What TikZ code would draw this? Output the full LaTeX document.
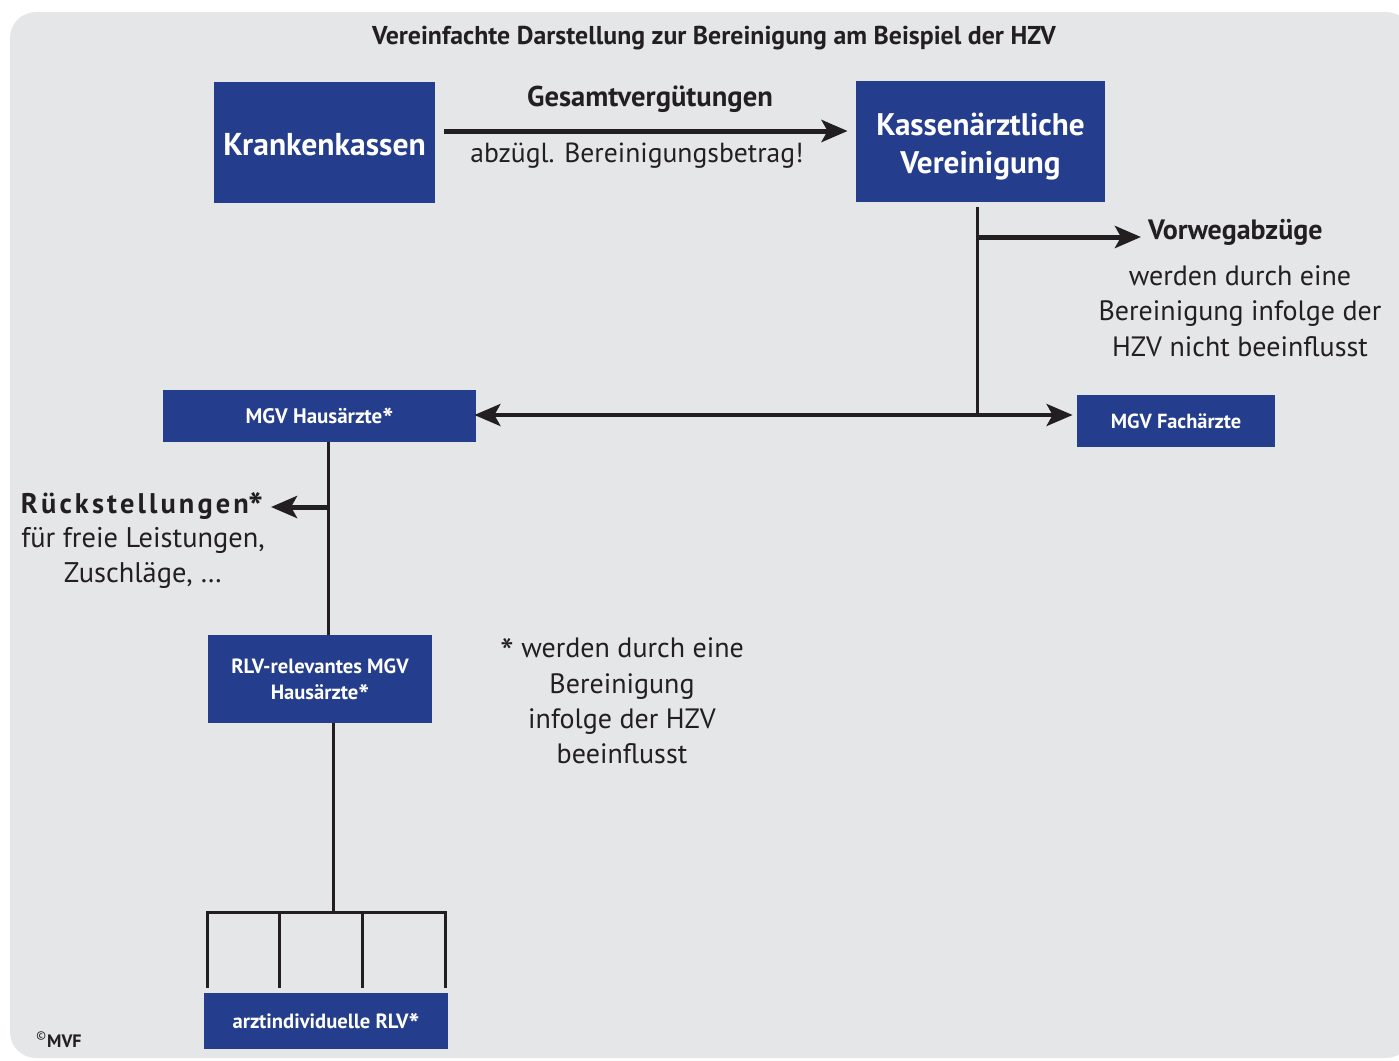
\documentclass[tikz,border=0pt]{standalone}
\usepackage{fontspec}
\usepackage{graphicx}
\setmainfont{PT Sans}
\usetikzlibrary{arrows.meta}
\definecolor{kvblue}{RGB}{36,61,140}
\definecolor{panelgray}{RGB}{229,230,232}
\definecolor{ink}{RGB}{35,31,32}
\newcommand{\lowstar}{\raisebox{-0.6ex}[0pt][0pt]{\scalebox{1.4}{*}}}
\tikzset{
  box/.style={fill=kvblue, text=white, inner sep=0pt, align=center},
  link/.style={draw=ink, line width=1.5pt},
  flow/.style={draw=ink, line width=2.5pt, -{Stealth[length=13pt,width=11pt,inset=3pt]}},
  both/.style={draw=ink, line width=2pt, {Stealth[length=13pt,width=11pt,inset=3pt]}-{Stealth[length=13pt,width=11pt,inset=3pt]}},
}

\begin{document}
\begin{tikzpicture}[x=0.5pt, y=-0.5pt, text=ink]
  \useasboundingbox (0,0) rectangle (1399,1061);
  \clip (0,0) rectangle (1399,1061);
  % grey panel
  \fill[panelgray, rounded corners=13pt] (10,12) rectangle (1412,1058);
  \node[font=\bfseries\fontsize{12.9}{15}\selectfont] (title) at (714,38)
        {Vereinfachte Darstellung zur Bereinigung am Beispiel der HZV};
  % top row
  \node[box, minimum width=110.5pt, minimum height=60.5pt,
        font=\bfseries\fontsize{15.8}{19}\selectfont] (kk) at (324.5,142.5)
        {\raisebox{-1pt}[\height][\depth]{Krankenkassen}};
  \node[box, minimum width=124.5pt, minimum height=60.5pt,
        font=\bfseries\fontsize{15.6}{19}\selectfont] (kv) at (980.5,141.5)
        {\raisebox{-2.5pt}[\height][\depth]{\begin{tabular}{@{}c@{}}Kassenärztliche\\Vereinigung\end{tabular}}};
  \draw[flow, shorten <=4.5pt, shorten >=4pt] (kk.east |- 0,131) -- (kv.west |- 0,131);
  \node[font=\bfseries\fontsize{14.3}{17}\selectfont] (gv) at (650,99) {Gesamtvergütungen};
  \node[font=\fontsize{13.8}{16}\selectfont] (abz) at (637,156) {abzügl. Bereinigungsbetrag!};
  % KV branch
  \coordinate (kvtop) at (977,207);
  \coordinate (kvjoin) at (977,415);
  \draw[link] (kvtop) -- (kvjoin);
  \node[anchor=west, font=\bfseries\fontsize{14}{17}\selectfont] (vw) at (1141,232) {Vorwegabzüge};
  \coordinate (vwfrom) at (978,237);
  \draw[flow] (vwfrom) -- (vw.west |- vwfrom);
  \node[align=center, font=\fontsize{14}{17.75}\selectfont] (vwnote) at (1240,311)
        {werden durch eine\\Bereinigung infolge der\\HZV nicht beeinflusst};
  % MGV row
  \node[box, minimum width=156.5pt, minimum height=26pt,
        font=\bfseries\fontsize{10.5}{12}\selectfont] (mgvh) at (319.5,416) {MGV Hausärzte\lowstar};
  \node[box, minimum width=99pt, minimum height=26pt,
        font=\bfseries\fontsize{10.2}{12}\selectfont] (mgvf) at (1176,421) {MGV Fachärzte};
  \draw[both, shorten <=-1pt, shorten >=2pt] (mgvh.east |- kvjoin) -- (mgvf.west |- kvjoin);
  % Hausaerzte branch
  \node[box, minimum width=112pt, minimum height=44pt,
        font=\bfseries\fontsize{10.3}{13}\selectfont] (rlv) at (320,679) {RLV-relevantes MGV\\Hausärzte\lowstar};
  \draw[link] (mgvh.south -| 328,0) -- (rlv.north -| 328,0);
  \coordinate (rsfrom) at (328,507);
  \node[anchor=east, font=\bfseries\fontsize{14.2}{17}\selectfont\addfontfeature{LetterSpace=11}] (rs) at (271,506) {Rückstellungen\lowstar};
  \draw[flow] (rsfrom) -- (rs.east |- rsfrom);
  \node[align=center, font=\fontsize{14.2}{17.5}\selectfont] (rsnote) at (143,558)
        {für freie Leistungen,\\Zuschläge, \dots};
  \node[align=center, font=\fontsize{14}{17.7}\selectfont] (fn) at (622,701)
        {\lowstar{} werden durch eine\\Bereinigung\\infolge der HZV\\beeinflusst};
  % fork to the doctors
  \node[box, minimum width=122pt, minimum height=28pt,
        font=\bfseries\fontsize{10.3}{12}\selectfont] (arzt) at (326,1021) {arztindividuelle RLV\lowstar};
  \coordinate (fork) at (333,912);
  \draw[link] (rlv.south -| fork) -- (fork);
  \draw[link, line cap=rect] (fork -| 207,0) -- (fork -| 445,0);
  \foreach \lx in {207,279,362,445}
    \draw[link, shorten >=2.5pt] (fork -| \lx,0) -- (arzt.north -| \lx,0);
  \node[font=\bfseries\fontsize{9}{11}\selectfont] (mvf) at (59,1040)
        {\textsuperscript{\normalfont ©}MVF};
\end{tikzpicture}
\end{document}
